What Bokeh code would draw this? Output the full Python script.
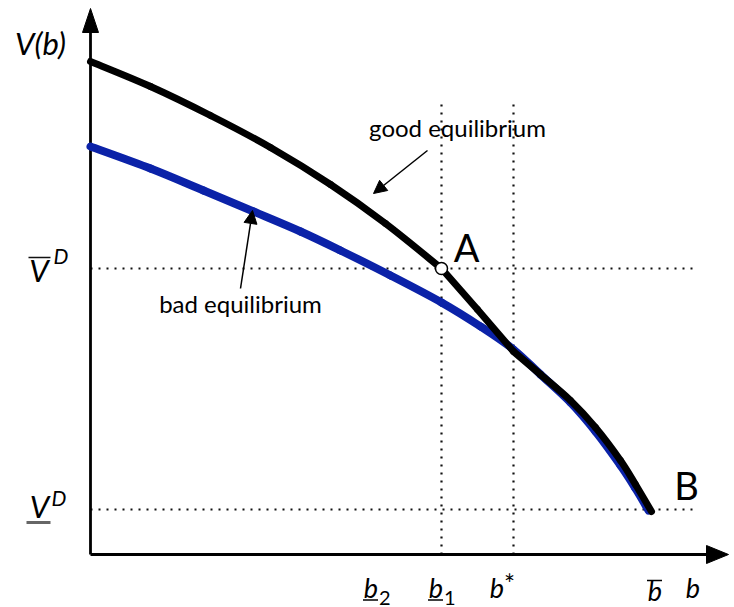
from bokeh.plotting import figure
from bokeh.models import Range1d, Arrow, NormalHead
from bokeh.core.properties import value
from bokeh.embed import file_html
from bokeh.resources import INLINE

# Debt level b (horizontal) and value V(b) (vertical), in chart units
b_good_upper = [0.00, 0.60, 1.20, 1.80, 2.40, 2.95, 3.51]
V_good_upper = [4.93, 4.68, 4.39, 4.07, 3.70, 3.31, 2.86]
b_good_mid = [3.51, 3.87, 4.23]
V_good_mid = [2.86, 2.45, 2.03]
b_good_lower = [4.23, 4.50, 4.80, 5.05, 5.30, 5.45, 5.61]
V_good_lower = [2.03, 1.80, 1.54, 1.27, 0.94, 0.70, 0.43]

b_bad = [0.00, 0.60, 1.13, 1.63, 2.10, 2.50, 3.00, 3.51, 3.90, 4.23, 4.50, 4.80, 5.05, 5.30, 5.45, 5.58]
V_bad = [4.08, 3.86, 3.64, 3.43, 3.23, 3.04, 2.79, 2.52, 2.28, 2.05, 1.80, 1.52, 1.23, 0.89, 0.66, 0.44]

# Thresholds
b2, b1, b_star, b_bar = 2.86, 3.51, 4.23, 5.61
V_D_bar, V_D_under = 2.86, 0.45
point_A = (b1, V_D_bar)

# Axis extents
b_axis_end, V_axis_end = 6.38, 5.46
dotted_b_end = 6.08
dotted_V_top = 4.53

FONT = value("Lato")
INK = "#000000"
BLUE = "#0b22a8"
DOT = "#111111"
PX = 0.01  # chart units per screen pixel


def baseline(y, size_px):
    """Shift a baseline so that glyphs sit on it in the SVG text layout."""
    return y + 0.4 * size_px * PX


def smooth(xs, ys):
    """Catmull-Rom spline through the points, as cubic Bezier pieces."""
    n = len(xs)
    px = [xs[0]] + list(xs) + [xs[-1]]
    py = [ys[0]] + list(ys) + [ys[-1]]
    out = dict(x0=[], y0=[], x1=[], y1=[], cx0=[], cy0=[], cx1=[], cy1=[])
    for i in range(1, n):
        out["x0"].append(px[i]); out["y0"].append(py[i])
        out["x1"].append(px[i + 1]); out["y1"].append(py[i + 1])
        out["cx0"].append(px[i] + (px[i + 1] - px[i - 1]) / 6)
        out["cy0"].append(py[i] + (py[i + 1] - py[i - 1]) / 6)
        out["cx1"].append(px[i + 1] - (px[i + 2] - px[i]) / 6)
        out["cy1"].append(py[i + 1] - (py[i + 2] - py[i]) / 6)
    return out


p = figure(width=734, height=607, x_range=Range1d(-0.90, 6.44), y_range=Range1d(-0.53, 5.54),
           output_backend="svg", toolbar_location=None, min_border=0,
           x_axis_type=None, y_axis_type=None)
p.grid.visible = False
p.outline_line_color = None
p.background_fill_color = "white"

# dotted guide lines
p.segment(x0=[0, 0], y0=[V_D_bar, V_D_under], x1=[dotted_b_end, dotted_b_end], y1=[V_D_bar, V_D_under],
          line_color=DOT, line_width=2.2, line_dash="2 6")
p.segment(x0=[b1, b_star], y0=[0, 0], x1=[b1, b_star], y1=[dotted_V_top, dotted_V_top],
          line_color=DOT, line_width=2.2, line_dash="2 6")

# axes with filled arrowheads
p.segment(x0=[0, 0], y0=[0, 0], x1=[b_axis_end - 0.1, 0], y1=[0, V_axis_end - 0.1],
          line_color=INK, line_width=2.8)
p.patches(xs=[[b_axis_end, b_axis_end - 0.22, b_axis_end - 0.22], [0, -0.08, 0.08]],
          ys=[[0, 0.09, -0.09], [V_axis_end, V_axis_end - 0.24, V_axis_end - 0.24]],
          fill_color=INK, line_color=INK, line_width=1)

# equilibrium curves
p.bezier(**smooth(b_bad, V_bad), line_color=BLUE, line_width=8, line_cap="round")
for xs, ys in [(b_good_upper, V_good_upper), (b_good_mid, V_good_mid), (b_good_lower, V_good_lower)]:
    p.bezier(**smooth(xs, ys), line_color=INK, line_width=7, line_cap="round")
p.scatter([point_A[0]], [point_A[1]], size=12, fill_color="white", line_color=INK, line_width=1.5)

# annotation arrows
for (x0, y0, x1, y1) in [(3.37, 4.04, 2.83, 3.61), (1.50, 2.66, 1.62, 3.44)]:
    p.add_layout(Arrow(x_start=x0, y_start=y0, x_end=x1, y_end=y1, line_width=1.5, line_color=INK,
                       end=NormalHead(size=13, fill_color=INK, line_color=INK, line_width=1)))

p.text(x=[3.67, 1.50], y=[baseline(4.17, 24), baseline(2.41, 24)], text=["good equilibrium", "bad equilibrium"],
       text_font=FONT, text_font_size="24px", text_align="center", text_baseline="alphabetic",
       text_color=INK)
p.text(x=[3.76, 5.96], y=[baseline(2.92, 38), baseline(0.54, 38)], text=["A", "B"], text_font=FONT,
       text_font_size="38px", text_align="center", text_baseline="alphabetic", text_color=INK)

# vertical-axis labels
p.text(x=[-0.50], y=[baseline(4.99, 31)], text=["V(b)"], text_font=FONT, text_font_size="31px",
       text_font_style="italic", text_align="center", text_baseline="alphabetic")
p.text(x=[-0.515, -0.51], y=[baseline(2.72, 31), baseline(0.36, 31)], text=["V", "V"], text_font=FONT,
       text_font_size="31px", text_font_style="italic", text_align="center", text_baseline="alphabetic")
p.text(x=[-0.37, -0.39], y=[baseline(2.91, 21), baseline(0.49, 21)], text=["D", "D"], text_font=FONT,
       text_font_size="21px", text_font_style="italic", text_align="left", text_baseline="alphabetic")
p.segment(x0=[-0.62], y0=[V_D_bar + 0.11], x1=[-0.40], y1=[V_D_bar + 0.11], line_color=DOT, line_width=1.5)
p.segment(x0=[-0.64], y0=[V_D_under - 0.13], x1=[-0.40], y1=[V_D_under - 0.13], line_color="#666666", line_width=3)

# horizontal-axis labels
tick_b = [b2, b1, b_star, b_bar]
tick_dx = [-0.055, -0.055, -0.165, 0.035]
label_x = [b + d for b, d in zip(tick_b, tick_dx)]
label_y = [-0.44, -0.44, -0.44, -0.47]
p.text(x=label_x + [6.025], y=[baseline(v, 27) for v in label_y + [-0.44]], text=["b"] * 5, text_font=FONT,
       text_font_size="27px", text_font_style="italic", text_align="center", text_baseline="alphabetic")
p.text(x=[label_x[0] + 0.08, label_x[1] + 0.08], y=[baseline(-0.51, 20)] * 2, text=["2", "1"], text_font=FONT,
       text_font_size="20px", text_align="left", text_baseline="alphabetic")
p.text(x=[label_x[2] + 0.07], y=[baseline(-0.40, 26)], text=["*"], text_font=FONT, text_font_size="26px",
       text_align="left", text_baseline="alphabetic")
p.segment(x0=[label_x[0] - 0.08, label_x[1] - 0.08, label_x[3] - 0.08],
          y0=[-0.455, -0.455, -0.26], x1=[label_x[0] + 0.07, label_x[1] + 0.07, label_x[3] + 0.07],
          y1=[-0.455, -0.455, -0.26], line_color=INK, line_width=1.5)

open("out.html", "w").write(file_html(p, INLINE))
